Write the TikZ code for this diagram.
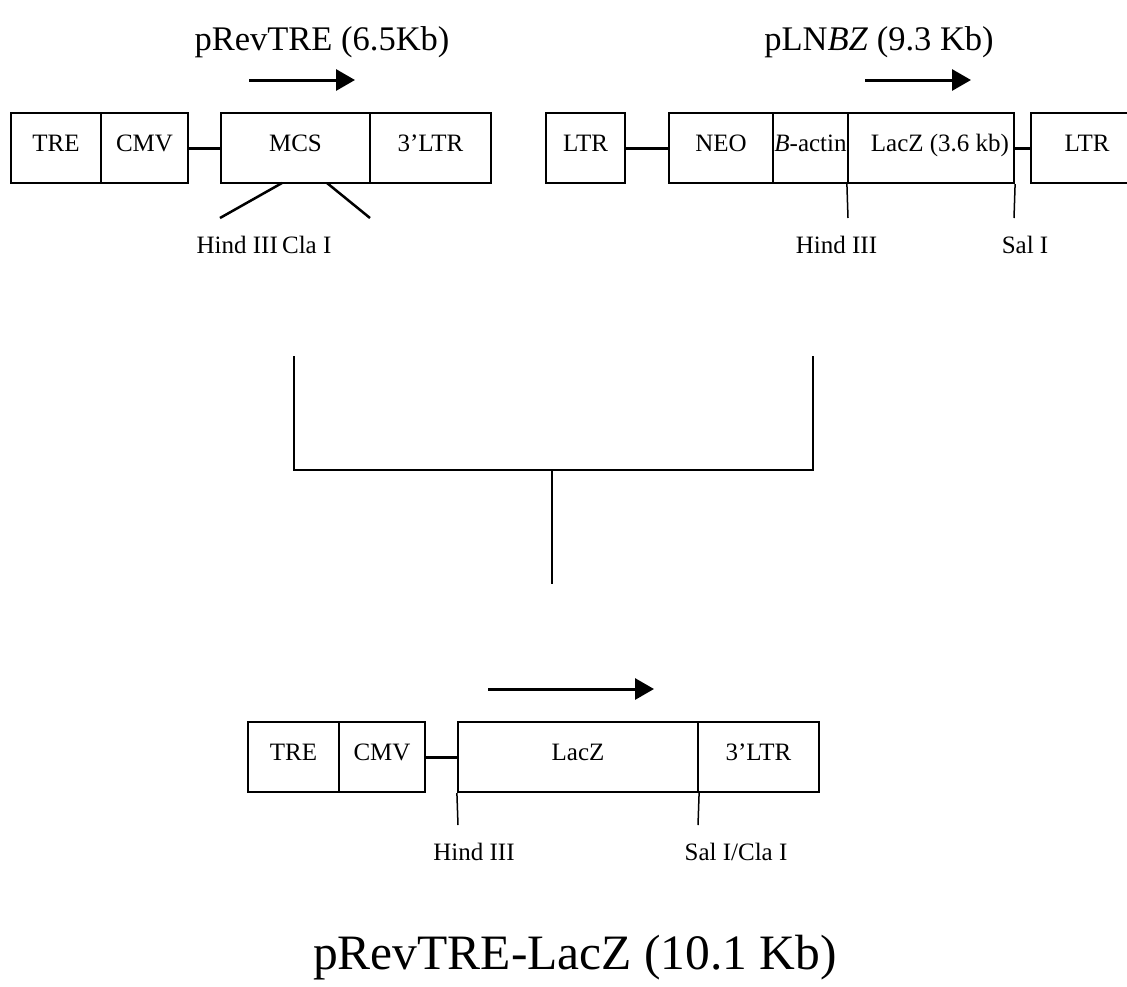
\documentclass[tikz,border=0pt]{standalone}
\usepackage{fontspec}
\setmainfont{Liberation Serif}
\usetikzlibrary{arrows.meta}
\begin{document}
\begin{tikzpicture}[x=1pt,y=-1pt,
  seg/.style={draw, line width=2.2pt, minimum height=70pt, inner sep=0pt,
    text height=18pt, text depth=12pt, font=\fontsize{25}{30}\selectfont},
  lbl/.style={anchor=base, inner sep=0pt, font=\fontsize{25}{30}\selectfont},
  ttl/.style={anchor=base, inner sep=0pt, font=\fontsize{34.5}{40}\selectfont},
  bigttl/.style={anchor=base, inner sep=0pt, font=\fontsize{49.5}{56}\selectfont},
  link/.style={line width=3pt},
  site/.style={line width=1.5pt},
  brk/.style={line width=2.2pt},
  dir/.style={line width=3pt, -{Triangle[length=19pt,width=21pt]}}]
\useasboundingbox (0,0) rectangle (1127,986);

% ---------- pRevTRE ----------
\node[ttl] (t1) at (322,50) {pRevTRE (6.5Kb)};
\coordinate (a1s) at (249,80); \coordinate (a1e) at (355,80);
\draw[dir] (a1s) -- (a1e);
\node[seg, minimum width=90pt] (tre1) at (56,148) {TRE};
\node[seg, minimum width=87pt] (cmv1) at (144.5,148) {CMV};
\node[seg, minimum width=149pt] (mcs) at (295.5,148) {MCS};
\node[seg, minimum width=121pt] (ltr3a) at (430.5,148) {3'LTR};
\draw[link] (cmv1.east) -- (mcs.west);
\coordinate (mH) at (282,183); \coordinate (mHe) at (220,218);
\coordinate (mC) at (327,183); \coordinate (mCe) at (370,218);
\draw[line width=2.5pt] (mH) -- (mHe);
\draw[line width=2.5pt] (mC) -- (mCe);
\node[lbl] (hc) at (264,253) {Hind III\kern-2pt\ Cla I};

% ---------- pLNBZ ----------
\node[ttl] (t2) at (879,50) {pLN\textit{BZ} (9.3 Kb)};
\coordinate (a2s) at (865,80); \coordinate (a2e) at (971,80);
\draw[dir] (a2s) -- (a2e);
\node[seg, minimum width=79pt] (ltrL) at (585.5,148) {LTR};
\node[seg, minimum width=104pt] (neo) at (721,148) {NEO};
\node[seg, minimum width=75pt] (bact) at (810.5,148) {\textit{B}-actin};
\node[seg, minimum width=166pt] (lacz1) at (931,148) {\hspace*{18pt}LacZ (3.6 kb)};
\node[lbl, anchor=center, text height=18pt, text depth=12pt] (ltrR) at (1087,148) {LTR};
\draw[line width=2.2pt] (1128,113) -| (1031,183) -- (1128,183);
\coordinate (ltrRw) at (1031,148);
\draw[link] (ltrL.east) -- (neo.west);
\draw[link] (lacz1.east) -- (ltrRw);
\coordinate (hB) at (848,218); \coordinate (sB) at (1014,218);
\draw[site] (lacz1.south west) -- (hB);
\draw[site] (lacz1.south east) -- (sB);
\node[lbl] (h2) at (836.5,253) {Hind III};
\node[lbl] (s2) at (1025,253) {Sal I};

% ---------- bracket ----------
\coordinate (bl) at (294,356); \coordinate (br) at (813,356);
\coordinate (bm) at (552,470); \coordinate (bd) at (552,584);
\draw[brk] (bl) |- (bm) -| (br);
\draw[brk] (bm) -- (bd);

% ---------- pRevTRE-LacZ ----------
\coordinate (a3s) at (488,689); \coordinate (a3e) at (654,689);
\draw[dir] (a3s) -- (a3e);
\node[seg, minimum width=91pt] (tre2) at (293.5,757) {TRE};
\node[seg, minimum width=86pt] (cmv2) at (382,757) {CMV};
\node[seg, minimum width=240pt] (lacz2) at (578,757) {LacZ};
\node[seg, minimum width=121pt] (ltr3b) at (758.5,757) {3'LTR};
\draw[link] (cmv2.east) -- (lacz2.west);
\coordinate (hC) at (458,825); \coordinate (sC) at (698,825);
\draw[site] (lacz2.south west) -- (hC);
\draw[site] (lacz2.south east) -- (sC);
\node[lbl] (h3) at (474,860) {Hind III};
\node[lbl] (s3) at (736,860) {Sal I/Cla I};
\node[bigttl] (t3) at (575,969) {pRevTRE-LacZ (10.1 Kb)};
\end{tikzpicture}
\end{document}
